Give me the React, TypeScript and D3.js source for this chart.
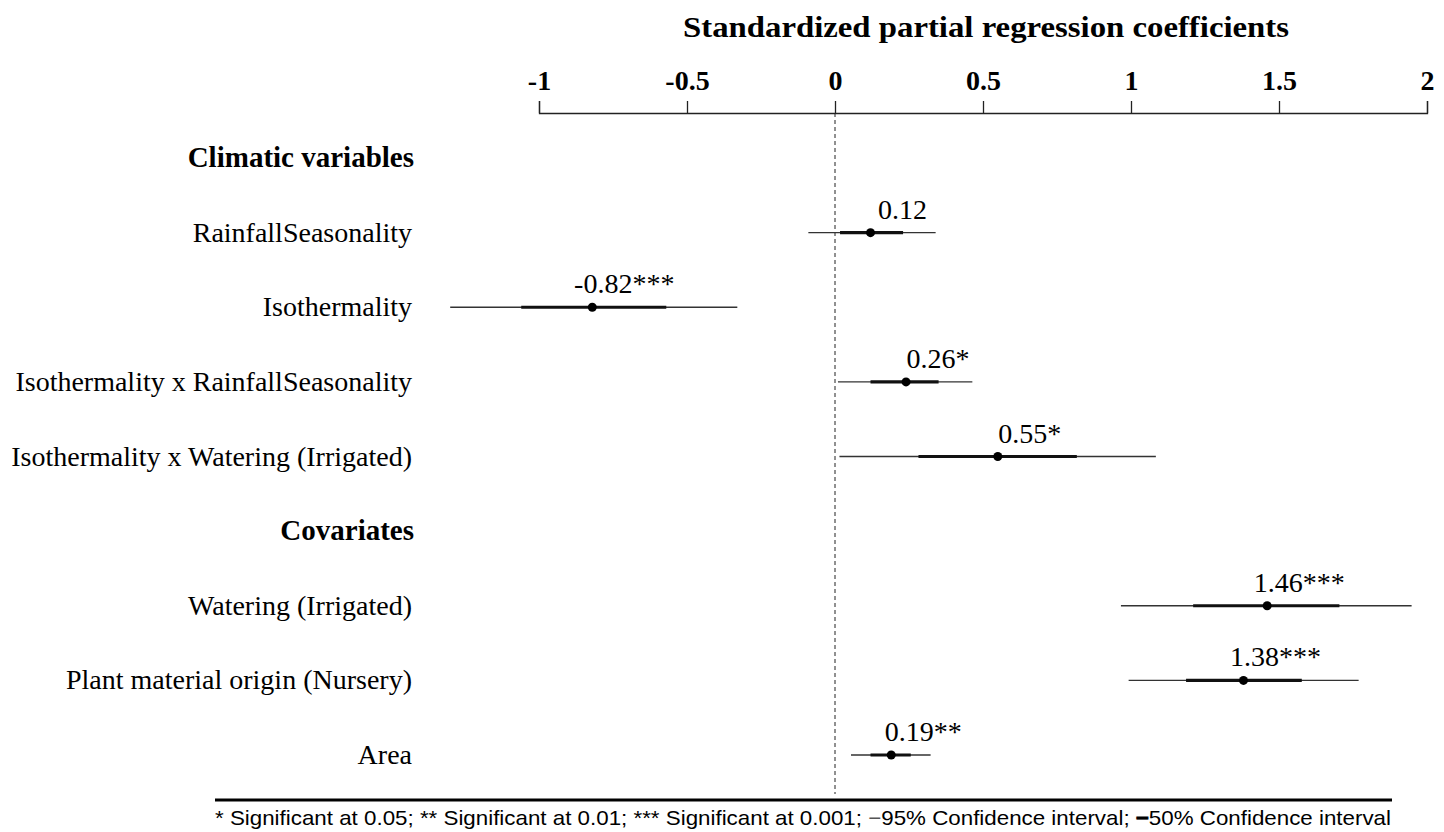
import React, { useRef, useEffect } from 'react';
import * as d3 from 'd3';

// rows top to bottom: group headers have no estimate
const rowLabels = [
  'Climatic variables',
  'RainfallSeasonality',
  'Isothermality',
  'Isothermality x RainfallSeasonality',
  'Isothermality x Watering (Irrigated)',
  'Covariates',
  'Watering (Irrigated)',
  'Plant material origin (Nursery)',
  'Area',
];
const isHeader = [true, false, false, false, false, true, false, false, false];

// coefficient estimates and intervals (null = header row)
const estimates = [null, 0.12, -0.82, 0.24, 0.55, null, 1.46, 1.38, 0.19];
const ci95Low = [null, -0.09, -1.30, 0.01, 0.015, null, 0.966, 0.992, 0.054];
const ci95High = [null, 0.34, -0.33, 0.464, 1.084, null, 1.948, 1.769, 0.323];
const ci50Low = [null, 0.017, -1.06, 0.12, 0.282, null, 1.21, 1.186, 0.12];
const ci50High = [null, 0.23, -0.57, 0.35, 0.817, null, 1.704, 1.577, 0.256];
const valueLabels = ['', '0.12', '-0.82***', '0.26*', '0.55*', '', '1.46***', '1.38***', '0.19**'];

const xTicks = [-1, -0.5, 0, 0.5, 1, 1.5, 2];

const App = () => {
  const svgRef = useRef<SVGSVGElement>(null);

  useEffect(() => {
    const width = 1444;
    const height = 832;
    const svg = d3.select(svgRef.current);
    svg.selectAll('*').remove();
    svg.attr('width', width).attr('height', height);

    const serif = '"Liberation Serif", "Times New Roman", serif';

    const x = d3.scaleLinear().domain([-1, 2]).range([539, 1427]);
    const y = d3.scalePoint<number>().domain(d3.range(rowLabels.length)).range([158, 755]);

    // title
    svg.append('text')
      .attr('x', 986)
      .attr('y', 37)
      .attr('text-anchor', 'middle')
      .attr('font-family', serif)
      .attr('font-weight', 'bold')
      .attr('font-size', 30)
      .attr('textLength', 606)
      .attr('lengthAdjust', 'spacingAndGlyphs')
      .text('Standardized partial regression coefficients');

    // top axis
    const axis = svg.append('g')
      .attr('transform', 'translate(0,113)')
      .call(d3.axisTop(x).tickValues(xTicks).tickFormat(d => String(d)).tickSize(12).tickPadding(11));
    axis.select('.domain').attr('stroke', '#222').attr('stroke-width', 1.3);
    axis.selectAll('.tick line').attr('stroke', '#222').attr('stroke-width', 1.3);
    axis.selectAll('.tick text')
      .attr('font-family', serif)
      .attr('font-weight', 'bold')
      .attr('font-size', 28)
      .attr('fill', '#000');

    // zero reference line
    svg.append('line')
      .attr('x1', x(0)).attr('x2', x(0))
      .attr('y1', 113).attr('y2', 794)
      .attr('stroke', '#222')
      .attr('stroke-width', 1)
      .attr('stroke-dasharray', '4,3');

    // row labels
    svg.append('g')
      .selectAll('text')
      .data(rowLabels)
      .join('text')
      .attr('x', (d, i) => (isHeader[i] ? 414 : 412))
      .attr('y', (d, i) => y(i)! + 9)
      .attr('text-anchor', 'end')
      .attr('font-family', serif)
      .attr('font-size', (d, i) => (isHeader[i] ? 29 : 28))
      .attr('font-weight', (d, i) => (isHeader[i] ? 'bold' : 'normal'))
      .text(d => d);

    const idx = d3.range(rowLabels.length).filter(i => estimates[i] !== null);
    const marks = svg.append('g');

    // 95% intervals
    marks.selectAll('line.ci95')
      .data(idx)
      .join('line')
      .attr('class', 'ci95')
      .attr('x1', i => x(ci95Low[i]!)).attr('x2', i => x(ci95High[i]!))
      .attr('y1', i => y(i)!).attr('y2', i => y(i)!)
      .attr('stroke', '#333')
      .attr('stroke-width', 1.3);

    // 50% intervals
    marks.selectAll('line.ci50')
      .data(idx)
      .join('line')
      .attr('class', 'ci50')
      .attr('x1', i => x(ci50Low[i]!)).attr('x2', i => x(ci50High[i]!))
      .attr('y1', i => y(i)!).attr('y2', i => y(i)!)
      .attr('stroke', '#111')
      .attr('stroke-width', 3.2);

    // point estimates
    marks.selectAll('circle')
      .data(idx)
      .join('circle')
      .attr('cx', i => x(estimates[i]!))
      .attr('cy', i => y(i)!)
      .attr('r', 4.5)
      .attr('fill', '#000');

    // value labels
    marks.selectAll('text')
      .data(idx)
      .join('text')
      .attr('x', i => x(estimates[i]!) + 32)
      .attr('y', i => y(i)! - 14)
      .attr('text-anchor', 'middle')
      .attr('font-family', serif)
      .attr('font-size', 28)
      .text(i => valueLabels[i]);

    // footer rule and note
    svg.append('line')
      .attr('x1', 215).attr('x2', 1392)
      .attr('y1', 800).attr('y2', 800)
      .attr('stroke', '#000')
      .attr('stroke-width', 3);

    const note = svg.append('text')
      .attr('x', 215)
      .attr('y', 825)
      .attr('font-family', '"Liberation Sans", Arial, sans-serif')
      .attr('font-size', 21)
      .attr('textLength', 1176)
      .attr('lengthAdjust', 'spacingAndGlyphs');
    note.append('tspan').text('* Significant at 0.05; ** Significant at 0.01; *** Significant at 0.001;  ');
    note.append('tspan').attr('fill', '#555').text('\u2212');
    note.append('tspan').text('95% Confidence interval; ');
    note.append('tspan').attr('font-weight', 'bold').attr('stroke', '#000').attr('stroke-width', 0.8).text('\u2212');
    note.append('tspan').text('50% Confidence interval');
  }, []);

  return (
    <svg ref={svgRef} style={{ position: 'absolute', left: 0, top: 0, background: '#fff' }} />
  );
};

export default App;
